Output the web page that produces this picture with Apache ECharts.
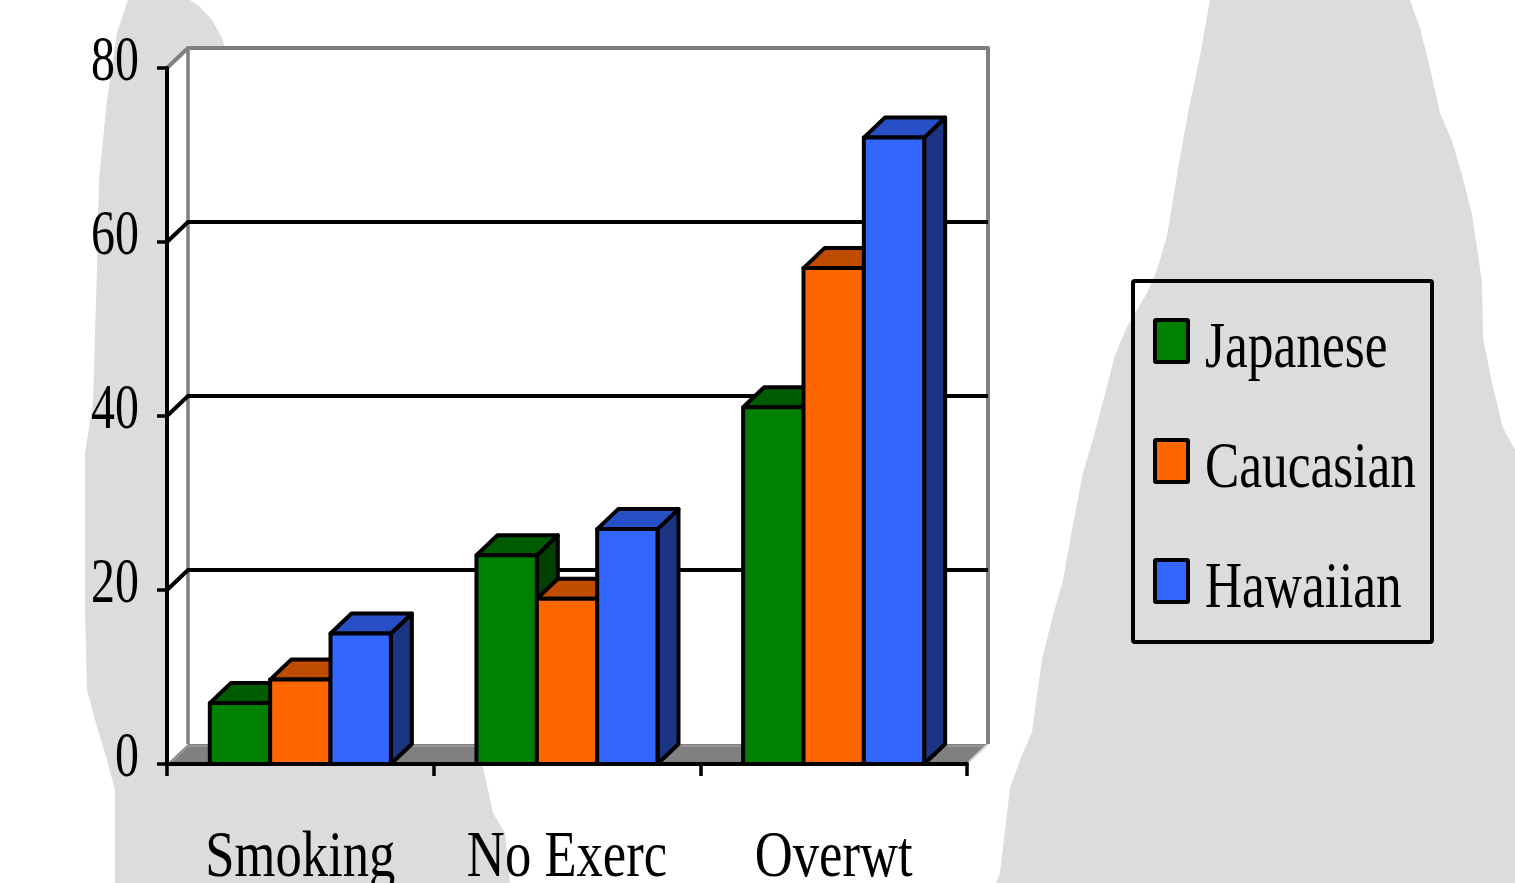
<!DOCTYPE html>
<html>
<head>
<meta charset="utf-8">
<script src="https://cdn.jsdelivr.net/npm/echarts@6/dist/echarts.min.js"></script>
<style>
  html, body { margin: 0; padding: 0; background: #ffffff; }
  #chart { width: 1515px; height: 883px; }
</style>
</head>
<body>
<div id="chart"></div>
<script>
// Risk factor prevalence by group (%)
const categories = ['Smoking', 'No Exerc', 'Overwt'];
const seriesNames = ['Japanese', 'Caucasian', 'Hawaiian'];
const japanese = [7, 24, 41];
const caucasian = [9.7, 19, 57];
const hawaiian = [15, 27, 72];
const yTicks = [0, 20, 40, 60, 80];

// Face / top / side shades for each group
const faceColors = ['#008000', '#FF6600', '#3366FF'];
const topColors = ['#005C00', '#BF4C00', '#2850C6'];
const sideColors = ['#004000', '#993D00', '#1B3483'];

const FONT = "'Liberation Serif', 'Times New Roman', serif";
const DX = 21, DY = -20;          // depth offset of the 3-D box
const BAR_FRAC = 0.2263;          // share of a category band taken by one bar
const TEXT_SQUEEZE = 0.79;        // horizontal condensing of the labels
const EDGE_W = 4;                 // outline weight of columns and gridlines

const chart = echarts.init(document.getElementById('chart'), null, { renderer: 'canvas' });

// Walls, floor and back-wall gridlines
function frameRender(params, api) {
  const cs = params.coordSys;
  const x0 = cs.x, x1 = cs.x + cs.width, yT = cs.y, yB = cs.y + cs.height;
  const children = [];
  children.push({
    type: 'polygon',
    shape: { points: [[x0, yT], [x0 + DX, yT + DY], [x1 + DX, yT + DY], [x1 + DX, yB + DY], [x1, yB], [x0, yB]] },
    style: { fill: '#ffffff', stroke: null }
  });
  children.push({
    type: 'polygon',
    shape: { points: [[x0, yB], [x0 + DX, yB + DY], [x1 + DX, yB + DY], [x1, yB]] },
    style: { fill: '#808080', stroke: null }
  });
  children.push({
    type: 'polyline',
    shape: { points: [[x0 + 4, yB - 1], [x0 + DX, yB + DY + 2], [x1 + DX - 2, yB + DY + 2]] },
    style: { stroke: '#9a9a9a', lineWidth: 1.5, fill: null }
  });
  children.push({
    type: 'line',
    shape: { x1: x1 + 2, y1: yB - 2, x2: x1 + DX, y2: yB + DY },
    style: { stroke: '#d8d8d8', lineWidth: 2 }
  });
  children.push({
    type: 'polyline',
    shape: { points: [[x0, yT], [x0 + DX, yT + DY], [x1 + DX, yT + DY], [x1 + DX, yB + DY]] },
    style: { stroke: '#808080', lineWidth: 4, fill: null, lineJoin: 'round' }
  });
  children.push({
    type: 'line',
    shape: { x1: x0 + DX, y1: yT + DY, x2: x0 + DX, y2: yB + DY },
    style: { stroke: '#808080', lineWidth: 3.5 }
  });
  yTicks.forEach(function (v) {
    if (v === yTicks[0] || v === yTicks[yTicks.length - 1]) return;
    const y = api.coord([0, v])[1];
    children.push({
      type: 'polyline',
      shape: { points: [[x0, y], [x0 + DX, y + DY], [x1 + DX, y + DY]] },
      style: { stroke: '#000000', lineWidth: EDGE_W, fill: null }
    });
  });
  return { type: 'group', children: children };
}

// One 3-D column: side, top, then front face
function barRender(k) {
  return function (params, api) {
    const cat = api.value(0), val = api.value(1);
    const p0 = api.coord([cat, 0]);
    const p1 = api.coord([cat, val]);
    const band = api.size([1, 0])[0];
    const w = band * BAR_FRAC;
    const l = p0[0] + (k - 1.5) * w, r = l + w, b = p0[1], t = p1[1];
    const edge = { stroke: '#000000', lineWidth: EDGE_W, lineJoin: 'round' };
    return {
      type: 'group',
      children: [
        { type: 'polygon', shape: { points: [[r, t], [r + DX, t + DY], [r + DX, b + DY], [r, b]] },
          style: Object.assign({ fill: sideColors[k] }, edge) },
        { type: 'polygon', shape: { points: [[l, t], [l + DX, t + DY], [r + DX, t + DY], [r, t]] },
          style: Object.assign({ fill: topColors[k] }, edge) },
        { type: 'polygon', shape: { points: [[l, t], [r, t], [r, b], [l, b]] },
          style: Object.assign({ fill: faceColors[k] }, edge) }
      ]
    };
  };
}

// Value-axis tick labels
function yLabelRender(params, api) {
  const v = api.value(1);
  const y = api.coord([0, v])[1];
  return {
    type: 'text', x: params.coordSys.x - 28, y: y - 5, scaleX: 0.76,
    style: { text: String(v), fontSize: 63, fontFamily: FONT, fill: '#000000', align: 'right', verticalAlign: 'middle' }
  };
}

// Category labels under the floor
function xLabelRender(params, api) {
  const i = api.value(0);
  const p = api.coord([i, 0]);
  return {
    type: 'text', x: p[0], y: p[1] + 95, scaleX: TEXT_SQUEEZE + 0.02,
    style: { text: categories[i], fontSize: 65, fontFamily: FONT, fill: '#000000', align: 'center', verticalAlign: 'middle' }
  };
}

const groups = [japanese, caucasian, hawaiian];
const barSeries = groups.map(function (vals, k) {
  return {
    name: seriesNames[k],
    type: 'custom',
    renderItem: barRender(k),
    data: vals.map(function (v, i) { return [i, v]; }),
    encode: { x: 0, y: 1 },
    z: 3
  };
});

// Background decoration and legend
const bgLeft = [[128, 0], [190, 0], [200, 7], [212, 20], [222, 38], [300, 300], [420, 600], [483, 767], [493, 813], [505, 833], [510, 883],
  [115, 883], [115, 790], [107, 760], [97, 727], [87, 690], [85, 610], [85, 453], [93, 403], [97, 267], [99, 180], [107, 100], [117, 33]];
const bgRight = [[1210, 0], [1410, 0], [1420, 28], [1430, 68], [1440, 113], [1452, 141], [1462, 175], [1472, 214], [1482, 282], [1483, 338],
  [1492, 383], [1503, 428], [1515, 450], [1515, 883], [996, 883], [1000, 873], [1010, 788], [1020, 760], [1032, 732], [1042, 659],
  [1052, 619], [1063, 580], [1073, 524], [1083, 473], [1093, 439], [1105, 394], [1115, 355], [1127, 327], [1147, 293], [1157, 270],
  [1167, 236], [1178, 169], [1188, 113], [1200, 56]];

const legendX = 1133, legendY = 281, legendW = 299, legendH = 361;
const legendRowY = [341, 461, 581];
const graphic = [
  { type: 'polygon', z: -10, shape: { points: bgLeft }, style: { fill: '#DCDCDC' } },
  { type: 'polygon', z: -10, shape: { points: bgRight }, style: { fill: '#DCDCDC' } },
  { type: 'rect', z: 20, shape: { x: legendX, y: legendY, width: legendW, height: legendH, r: 2 },
    style: { fill: null, stroke: '#000000', lineWidth: 4 } }
];
seriesNames.forEach(function (name, k) {
  graphic.push({ type: 'rect', z: 20, shape: { x: 1155, y: legendRowY[k] - 21, width: 33, height: 42, r: 1 },
    style: { fill: faceColors[k], stroke: '#000000', lineWidth: 4 } });
  graphic.push({ type: 'text', z: 20, x: 1205, y: legendRowY[k] + 9, scaleX: TEXT_SQUEEZE,
    style: { text: name, fontSize: 65, fontFamily: FONT, fill: '#000000', align: 'left', verticalAlign: 'middle' } });
});

const option = {
  animation: false,
  backgroundColor: '#ffffff',
  grid: { left: 167, top: 68, width: 800, height: 696, containLabel: false },
  xAxis: {
    type: 'category',
    data: categories,
    boundaryGap: true,
    z: 10,
    axisLine: { show: true, lineStyle: { color: '#000000', width: 4 } },
    axisTick: { show: true, length: 12, lineStyle: { color: '#000000', width: 3.5 } },
    axisLabel: { show: false },
    splitLine: { show: false }
  },
  yAxis: {
    type: 'value',
    min: 0, max: 80, interval: 20,
    z: 10,
    axisLine: { show: true, lineStyle: { color: '#000000', width: 4 } },
    axisTick: { show: true, length: 10, lineStyle: { color: '#000000', width: 3.5 } },
    axisLabel: { show: false },
    splitLine: { show: false }
  },
  graphic: graphic,
  series: [
    { type: 'custom', name: 'frame', renderItem: frameRender, data: [[0, 0]], encode: { x: 0, y: 1 }, z: 1, silent: true }
  ].concat(barSeries).concat([
    { type: 'custom', name: 'yLabels', renderItem: yLabelRender, data: yTicks.map(function (v) { return [0, v]; }),
      encode: { x: 0, y: 1 }, z: 12, silent: true },
    { type: 'custom', name: 'xLabels', renderItem: xLabelRender, data: categories.map(function (c, i) { return [i, 0]; }),
      encode: { x: 0, y: 1 }, z: 12, silent: true }
  ])
};
chart.setOption(option);
</script>
</body>
</html>
